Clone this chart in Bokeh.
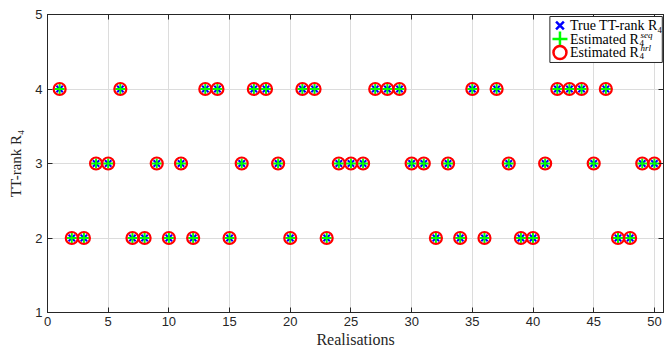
from bokeh.plotting import figure
from bokeh.models import (Range1d, LinearAxis, FixedTicker, Label, BoxAnnotation)
from bokeh.embed import file_html
from bokeh.resources import INLINE

realisations = list(range(1, 51))
true_rank = [4, 2, 2, 3, 3, 4, 2, 2, 3, 2,
             3, 2, 4, 4, 2, 3, 4, 4, 3, 2,
             4, 4, 2, 3, 3, 3, 4, 4, 4, 3,
             3, 2, 3, 2, 4, 2, 4, 3, 2, 2,
             3, 4, 4, 4, 3, 4, 2, 2, 3, 3]
est_seq = list(true_rank)
est_hrl = list(true_rank)
x_ticks = [0, 5, 10, 15, 20, 25, 30, 35, 40, 45, 50]
y_ticks = [1, 2, 3, 4, 5]
legend_labels = ["True TT-rank R\u2084", "Estimated R", "Estimated R"]

AX = "#262626"
SERIF = "Liberation Serif"
SANS = "Liberation Sans"

p = figure(width=664, height=352, output_backend="svg", toolbar_location=None,
           x_range=Range1d(0, 50.75), y_range=Range1d(1, 5),
           min_border_left=47, min_border_right=1, min_border_top=14, min_border_bottom=40)
p.background_fill_color = "white"
p.border_fill_color = "white"
p.outline_line_color = AX
p.outline_line_width = 1

for ax in (p.xaxis[0], p.yaxis[0]):
    ax.axis_line_color = AX
    ax.major_tick_line_color = AX
    ax.major_tick_in = 5
    ax.major_tick_out = 0
    ax.minor_tick_line_color = None
    ax.major_label_text_color = AX
    ax.major_label_text_font = SANS
    ax.major_label_text_font_size = "13px"
    ax.axis_label_text_font = SERIF
    ax.axis_label_text_font_style = "normal"
    ax.axis_label_text_color = AX

p.xaxis[0].ticker = FixedTicker(ticks=x_ticks)
p.yaxis[0].ticker = FixedTicker(ticks=y_ticks)
p.xaxis[0].axis_label = "Realisations"
p.yaxis[0].axis_label = "TT-rank R\u2084"
p.xaxis[0].axis_label_text_font_size = "16px"
p.yaxis[0].axis_label_text_font_size = "15px"
p.xaxis[0].major_label_standoff = 4
p.yaxis[0].major_label_standoff = 5
p.xaxis[0].axis_label_standoff = 2
p.yaxis[0].axis_label_standoff = 8

top = LinearAxis(ticker=FixedTicker(ticks=x_ticks),
                 major_label_overrides={t: "" for t in x_ticks},
                 major_label_standoff=0, major_tick_in=5, major_tick_out=0,
                 minor_tick_line_color=None, axis_line_color=AX, major_tick_line_color=AX)
right = LinearAxis(ticker=FixedTicker(ticks=y_ticks),
                   major_label_overrides={t: "" for t in y_ticks},
                   major_label_standoff=0, major_tick_in=5, major_tick_out=0,
                   minor_tick_line_color=None, axis_line_color=AX, major_tick_line_color=AX)
p.add_layout(top, "above")
p.add_layout(right, "right")

p.xgrid.ticker = FixedTicker(ticks=x_ticks)
p.ygrid.ticker = FixedTicker(ticks=y_ticks)
p.grid.grid_line_color = "#dcdcdc"
p.grid.grid_line_width = 1

p.scatter(realisations, true_rank, marker="x", size=9, line_color="#0000FF", line_width=2)
p.scatter(realisations, est_seq, marker="cross", size=10, line_color="#00FF00", line_width=2)
p.scatter(realisations, est_hrl, marker="circle", size=12, line_color="#FF0000",
          line_width=2.2, fill_alpha=0)

# legend (drawn by hand so that marker sizes and super/subscripts match)
LX0, LX1, LY0, LY1 = 41.39, 50.65, 4.356, 4.973
MX, TX = 42.22, 43.04
ROWS = [4.852, 4.671, 4.49]
box = BoxAnnotation(left=LX0, right=LX1, bottom=LY0, top=LY1, fill_color="white",
                    fill_alpha=1, line_color=AX, line_alpha=1, line_width=1, level="annotation")
p.add_layout(box)
p.scatter([MX], [ROWS[0]], marker="x", size=11, line_color="#0000FF", line_width=2.5, level="overlay")
p.scatter([MX], [ROWS[1]], marker="cross", size=15, line_color="#00FF00", line_width=2.5, level="overlay")
p.scatter([MX], [ROWS[2]], marker="circle", size=13, line_color="#FF0000", line_width=2.5,
          fill_color="white", fill_alpha=0, level="overlay")
for ry, t in zip(ROWS, legend_labels):
    lab = Label(x=TX, y=ry, text=t, text_font=SERIF, text_font_size="14px",
                text_color="black", text_baseline="middle", text_align="left", level="overlay")
    p.add_layout(lab)
for ry, sup in zip(ROWS[1:], ["seq", "hrl"]):
    p.add_layout(Label(x=48.78, y=ry - 0.05, text="4", text_font=SERIF, text_font_size="9px",
                       text_color="black", text_baseline="middle", level="overlay"))
    p.add_layout(Label(x=48.86, y=ry + 0.055, text=sup, text_font=SERIF, text_font_size="9px",
                       text_font_style="italic", text_color="black", text_baseline="middle",
                       level="overlay"))

open("out.html", "w").write(file_html(p, INLINE))
